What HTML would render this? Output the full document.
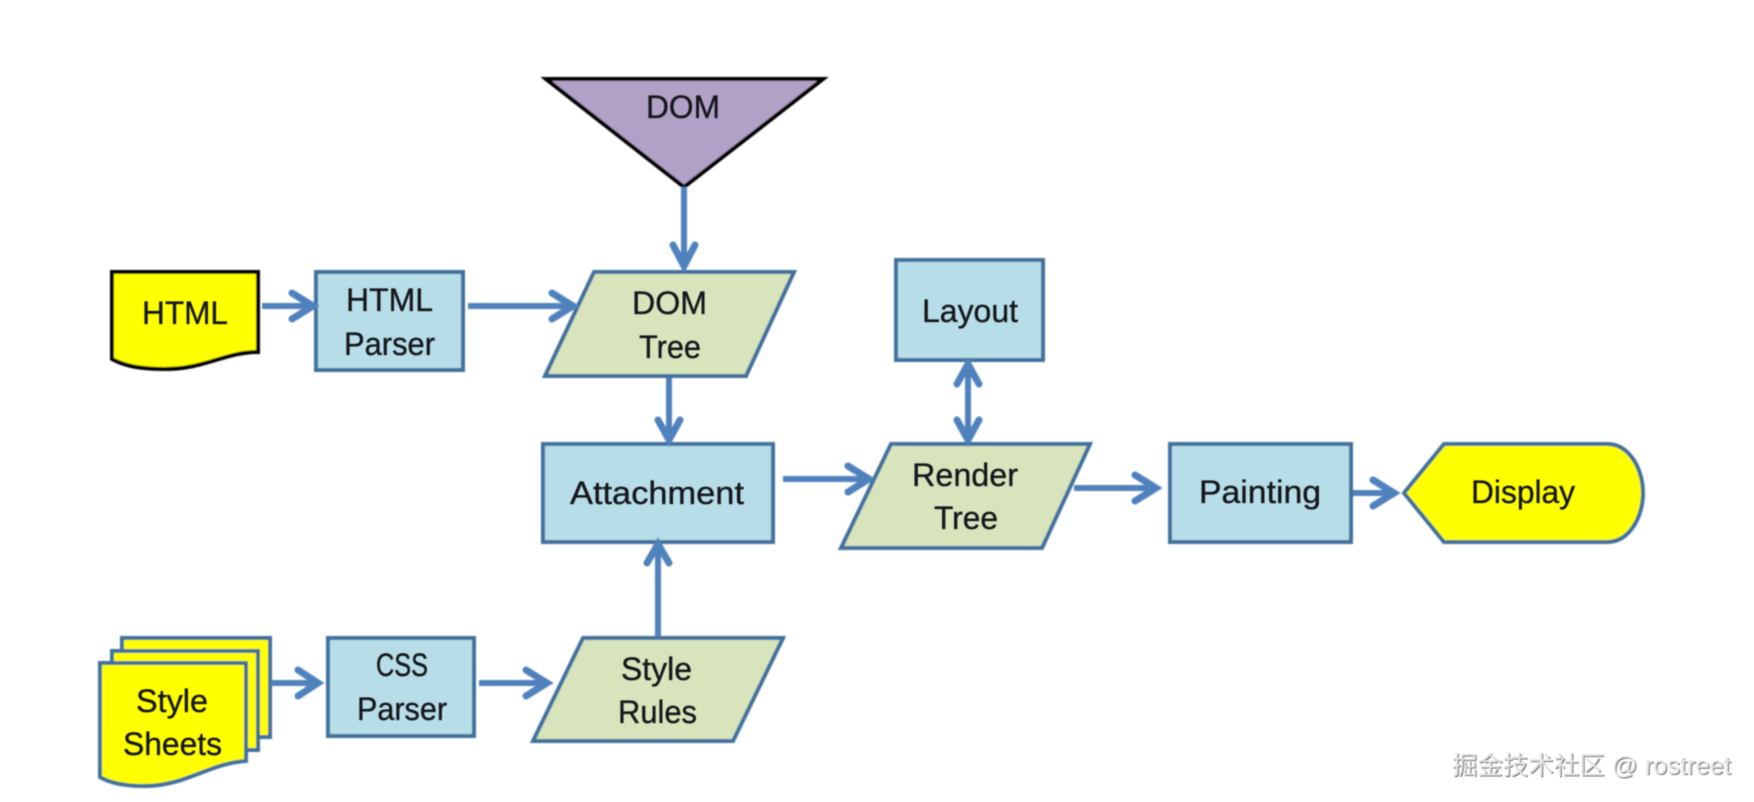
<!DOCTYPE html>
<html><head><meta charset="utf-8"><style>
html,body{margin:0;padding:0;background:#fff;width:1754px;height:802px;overflow:hidden}
svg{display:block}
text{font-family:"Liberation Sans","Noto Sans CJK SC",sans-serif;font-size:32px;fill:#14181c;stroke:#14181c;stroke-width:.35}
.b{fill:#b7dde8;stroke:#3f6f9c;stroke-width:4}
.g{fill:#d7e4bc;stroke:#3f6f9c;stroke-width:4}
.y{fill:#ffff00;stroke:#3f6f9c;stroke-width:4}
.a{fill:none;stroke:#4f81bd;stroke-width:6}
.h{fill:none;stroke:#4f81bd;stroke-width:7;stroke-linecap:round}
</style></head><body>
<svg width="1754" height="802" viewBox="0 0 1754 802" xmlns="http://www.w3.org/2000/svg">
<defs><filter id="s" x="-5%" y="-5%" width="110%" height="110%"><feGaussianBlur stdDeviation="0.8"/></filter>
<filter id="t" x="-5%" y="-20%" width="110%" height="140%"><feGaussianBlur stdDeviation="0.5"/></filter></defs>
<g filter="url(#s)">
<!-- DOM triangle -->
<polygon points="546,79 823,79 684,187" fill="#b2a1c7" stroke="#000" stroke-width="4" stroke-linejoin="miter"/>
<!-- HTML doc -->
<path d="M112,272 H258 V352 C225,352 205,369 165,369 C140,369 125,366 112,359 Z" fill="#ffff00" stroke="#000" stroke-width="4"/>
<rect class="b" x="316" y="272" width="147" height="98"/>
<polygon class="g" points="594,272 794,272 746,376 545,376"/>
<rect class="b" x="543" y="444" width="230" height="98"/>
<rect class="b" x="896" y="260" width="147" height="100"/>
<polygon class="g" points="891,444 1090,444 1042,548 841,548"/>
<rect class="b" x="1170" y="444" width="181" height="98"/>
<path class="y" d="M1404,493 L1444,444 H1607 C1630,444 1643,470 1643,493 C1643,516 1630,542 1607,542 H1444 Z"/>
<!-- style sheets -->
<rect class="y" x="122" y="638" width="148" height="99"/>
<rect class="y" x="112" y="651" width="146" height="99"/>
<path class="y" d="M100,663 H246 V761 C210,763 185,786 145,786 C125,786 110,783 100,777 Z"/>
<rect class="b" x="328" y="638" width="146" height="98"/>
<polygon class="g" points="583,638 783,638 733,741 533,741"/>
<!-- arrows -->
<path class="a" d="M684,187 V265"/><path class="h" d="M673,245 L684,266 L695,245"/>
<path class="a" d="M262,306 H311"/><path class="h" d="M292,293 L313,306 L292,319"/>
<path class="a" d="M468,306 H570"/><path class="h" d="M552,293 L573,306 L552,319"/>
<path class="a" d="M669,378 V438"/><path class="h" d="M658,420 L669,440 L680,420"/>
<path class="a" d="M658,637 V548"/><path class="h" d="M647,563 L658,544 L669,563"/>
<path class="a" d="M271,683 H316"/><path class="h" d="M298,670 L318,683 L298,696"/>
<path class="a" d="M479,683 H545"/><path class="h" d="M526,670 L547,683 L526,696"/>
<path class="a" d="M783,479 H866"/><path class="h" d="M848,466 L869,479 L848,492"/>
<path class="a" d="M968,366 V438"/><path class="h" d="M957,384 L968,364 L979,384"/><path class="h" d="M957,420 L968,440 L979,420"/>
<path class="a" d="M1074,488 H1153"/><path class="h" d="M1135,475 L1156,488 L1135,501"/>
<path class="a" d="M1353,493 H1392"/><path class="h" d="M1373,480 L1394,493 L1373,506"/>
</g>
<g filter="url(#t)">
<text x="646" y="118" textLength="74" lengthAdjust="spacingAndGlyphs">DOM</text>
<text x="142" y="324" textLength="86" lengthAdjust="spacingAndGlyphs">HTML</text>
<text x="346" y="311" textLength="87" lengthAdjust="spacingAndGlyphs">HTML</text>
<text x="344" y="355" textLength="91" lengthAdjust="spacingAndGlyphs">Parser</text>
<text x="632" y="314" textLength="75" lengthAdjust="spacingAndGlyphs">DOM</text>
<text x="639" y="358" textLength="62" lengthAdjust="spacingAndGlyphs">Tree</text>
<text x="570" y="504" textLength="174" lengthAdjust="spacingAndGlyphs">Attachment</text>
<text x="376" y="676" textLength="52" lengthAdjust="spacingAndGlyphs">CSS</text>
<text x="357" y="720" textLength="90" lengthAdjust="spacingAndGlyphs">Parser</text>
<text x="621" y="680" textLength="71" lengthAdjust="spacingAndGlyphs">Style</text>
<text x="618" y="723" textLength="79" lengthAdjust="spacingAndGlyphs">Rules</text>
<text x="136" y="712" textLength="72" lengthAdjust="spacingAndGlyphs">Style</text>
<text x="123" y="755" textLength="99" lengthAdjust="spacingAndGlyphs">Sheets</text>
<text x="922" y="322" textLength="96" lengthAdjust="spacingAndGlyphs">Layout</text>
<text x="912" y="486" textLength="106" lengthAdjust="spacingAndGlyphs">Render</text>
<text x="934" y="529" textLength="64" lengthAdjust="spacingAndGlyphs">Tree</text>
<text x="1199" y="503" textLength="122" lengthAdjust="spacingAndGlyphs">Painting</text>
<text x="1471" y="503" textLength="104" lengthAdjust="spacingAndGlyphs">Display</text>
<text x="1453" y="775" style="font-size:25px;fill:#666;stroke:none" textLength="279" lengthAdjust="spacingAndGlyphs">掘金技术社区 @ rostreet</text>
<text x="1452" y="774" style="font-size:25px;fill:#e6e6e6;stroke:none" textLength="279" lengthAdjust="spacingAndGlyphs">掘金技术社区 @ rostreet</text>
</g>
</svg>
</body></html>
